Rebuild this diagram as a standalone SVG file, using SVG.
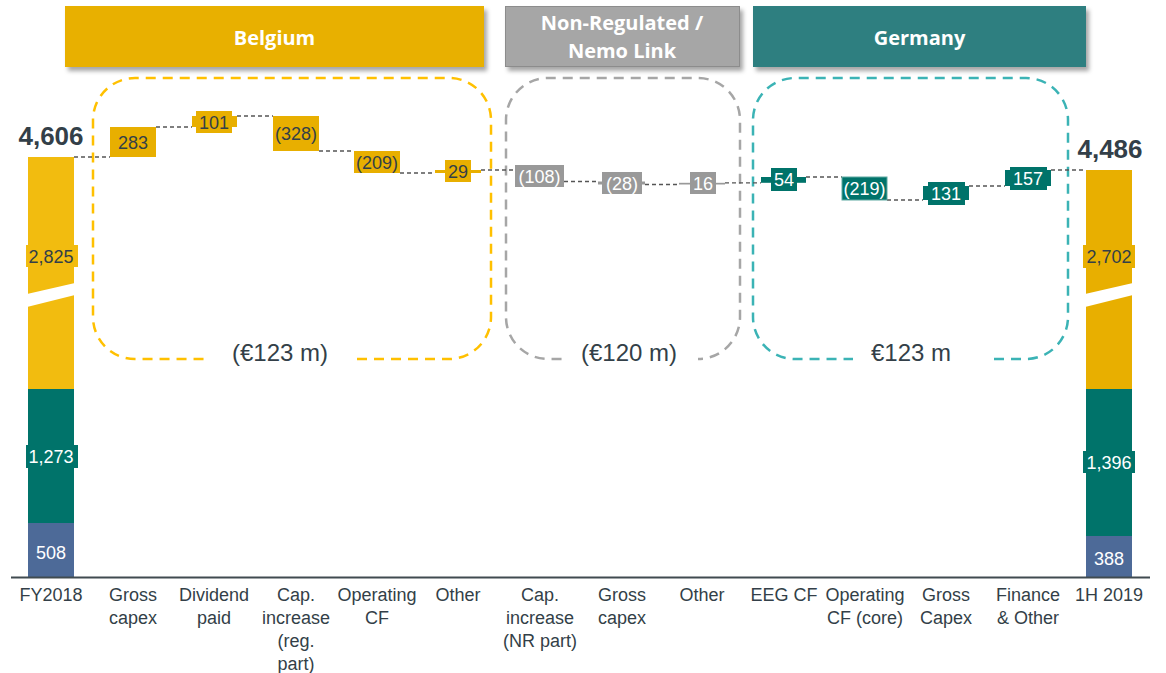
<svg xmlns="http://www.w3.org/2000/svg" width="1166" height="673" viewBox="0 0 1166 673">
<defs>
<filter id="sh" x="-10%" y="-20%" width="130%" height="160%">
<feDropShadow dx="3" dy="4" stdDeviation="2" flood-color="#000" flood-opacity="0.35"/>
</filter>
<style>
.hdr{font-family:"Open Sans","Liberation Sans",sans-serif;font-weight:bold;font-size:20px;fill:#fff;text-anchor:middle}
.cat{font-family:"Liberation Sans",Arial,sans-serif;font-size:18px;fill:#333F48;text-anchor:middle}
.val{font-family:"Liberation Sans",Arial,sans-serif;font-size:18px;text-anchor:middle}
.dk{fill:#333F48}
.wt{fill:#fff}
.tot{font-family:"Liberation Sans",Arial,sans-serif;font-size:26px;font-weight:bold;fill:#333F48;text-anchor:middle}
.sum{font-family:"Liberation Sans",Arial,sans-serif;font-size:24px;fill:#333F48;text-anchor:middle}
.yl{fill:#E8AF00}
.yl2{fill:#F2BC0F}
.gr{fill:#999999}
.tl{fill:#00736A}
.bl{fill:#4D6A98}
.con{stroke:#555;stroke-width:1.3;stroke-dasharray:4 3;fill:none}
.reg{fill:none;stroke-width:2.5;stroke-dasharray:10 7}
</style>
</defs>
<rect width="1166" height="673" fill="#fff"/>

<!-- headers -->
<g id="hdr-belgium">
<rect x="65" y="6" width="419" height="61" fill="#E8B000" filter="url(#sh)"/>
<text class="hdr" x="274.5" y="45">Belgium</text>
</g>
<g id="hdr-nonreg">
<rect x="505.5" y="6.5" width="234" height="60" fill="#A6A6A6" stroke="#8C8C8C" stroke-width="1" filter="url(#sh)"/>
<text class="hdr" x="622" y="30">Non-Regulated /</text>
<text class="hdr" x="622" y="58">Nemo Link</text>
</g>
<g id="hdr-germany">
<rect x="753" y="6" width="333" height="61" fill="#2F7F80" filter="url(#sh)"/>
<text class="hdr" x="919.5" y="45">Germany</text>
</g>

<!-- region boxes -->
<g id="region-belgium">
<path class="reg" stroke="#FFC000" d="M357,359 H449 A42,42 0 0 0 491,317 V120 A42,42 0 0 0 449,78 H135 A42,42 0 0 0 93,120 V317 A42,42 0 0 0 135,359 H207"/>
<text class="sum" x="280" y="361">(€123 m)</text>
</g>
<g id="region-nonreg">
<path class="reg" stroke="#A6A6A6" d="M703,359 H698 A42,42 0 0 0 740,317 V120 A42,42 0 0 0 698,78 H548 A42,42 0 0 0 506,120 V317 A42,42 0 0 0 548,359 H563"/>
<text class="sum" x="629" y="361">(€120 m)</text>
</g>
<g id="region-germany">
<path class="reg" stroke="#3BB3B5" d="M994,359 H1026 A42,42 0 0 0 1068,317 V120 A42,42 0 0 0 1026,78 H795 A42,42 0 0 0 753,120 V317 A42,42 0 0 0 795,359 H853"/>
<text class="sum" x="911" y="361">€123 m</text>
</g>

<!-- connectors -->
<g id="connectors">
<line class="con" x1="74" y1="157" x2="110" y2="157"/>
<line class="con" x1="156" y1="127" x2="192" y2="127"/>
<line class="con" x1="237" y1="116" x2="273" y2="116"/>
<line class="con" x1="319" y1="151" x2="354" y2="151"/>
<line class="con" x1="400" y1="173" x2="435" y2="173"/>
<line class="con" x1="481" y1="170" x2="515" y2="170"/>
<line class="con" x1="564" y1="181.5" x2="598" y2="181.5"/>
<line class="con" x1="645" y1="184.5" x2="679" y2="184.5"/>
<line class="con" x1="725" y1="182.8" x2="761" y2="182.8"/>
<line class="con" x1="806" y1="177" x2="842" y2="177"/>
<line class="con" x1="887" y1="200" x2="923" y2="200"/>
<line class="con" x1="969" y1="186" x2="1005" y2="186"/>
<line class="con" x1="1051" y1="170" x2="1086" y2="170"/>
</g>

<!-- start bar -->
<g id="bar-fy2018">
<rect class="yl2" x="28" y="157" width="46" height="232"/>
<polygon points="27,294 75,283 75,295 27,307" fill="#fff"/>
<rect class="tl" x="28" y="389" width="46" height="134"/>
<rect class="bl" x="28" y="523" width="46" height="54"/>
<rect class="yl2" x="26" y="245" width="52" height="22"/>
<text class="val dk" x="51" y="262.5">2,825</text>
<rect class="tl" x="26" y="445" width="52" height="23"/>
<text class="val wt" x="51" y="463">1,273</text>
<text class="val wt" x="51" y="558.5">508</text>
<text class="tot" x="51" y="145">4,606</text>
</g>

<!-- Belgium steps -->
<g id="step-gross-capex-be">
<rect class="yl" x="110" y="127" width="46" height="30"/>
<text class="val dk" x="133" y="148.5">283</text>
</g>
<g id="step-dividend">
<rect class="yl" x="192" y="116" width="45" height="11"/>
<rect class="yl" x="196" y="111" width="36" height="22"/>
<text class="val dk" x="214" y="128.5">101</text>
</g>
<g id="step-capinc-reg">
<rect class="yl" x="273" y="116" width="46" height="35"/>
<text class="val dk" x="296" y="140">(328)</text>
</g>
<g id="step-opcf-be">
<rect class="yl" x="354" y="151" width="46" height="22"/>
<text class="val dk" x="377" y="169">(209)</text>
</g>
<g id="step-other-be">
<rect class="yl" x="435" y="170" width="46" height="3"/>
<rect class="yl" x="445" y="160" width="26" height="22"/>
<text class="val dk" x="458" y="177.5">29</text>
</g>

<!-- Non-regulated steps -->
<g id="step-capinc-nr">
<rect class="gr" x="515" y="165" width="49" height="22"/>
<text class="val wt" x="539.5" y="182.5">(108)</text>
</g>
<g id="step-gross-capex-nr">
<rect class="gr" x="598" y="181.5" width="47" height="3"/>
<rect class="gr" x="602" y="172" width="40" height="22"/>
<text class="val wt" x="622" y="189.5">(28)</text>
</g>
<g id="step-other-nr">
<rect class="gr" x="679" y="182.8" width="46" height="1.7"/>
<rect class="gr" x="690" y="172" width="26" height="22"/>
<text class="val wt" x="703" y="189.5">16</text>
</g>

<!-- Germany steps -->
<g id="step-eeg">
<rect class="tl" x="761" y="177" width="45" height="5.8"/>
<rect class="tl" x="771" y="168" width="26" height="23"/>
<text class="val wt" x="784" y="186">54</text>
</g>
<g id="step-opcf-de">
<rect class="tl" x="842" y="177" width="45" height="23" stroke="#5FA9A2" stroke-width="1"/>
<text class="val wt" x="864.5" y="195">(219)</text>
</g>
<g id="step-gross-capex-de">
<rect class="tl" x="923" y="186" width="46" height="14"/>
<rect class="tl" x="928" y="182" width="37" height="23"/>
<text class="val wt" x="946" y="200">131</text>
</g>
<g id="step-finance">
<rect class="tl" x="1005" y="170" width="46" height="16"/>
<rect class="tl" x="1010" y="167" width="37" height="23"/>
<text class="val wt" x="1028" y="185">157</text>
</g>

<!-- end bar -->
<g id="bar-1h2019">
<rect class="yl" x="1086" y="170" width="46" height="219"/>
<polygon points="1085,294 1133,283 1133,295 1085,307" fill="#fff"/>
<rect class="tl" x="1086" y="389" width="46" height="147"/>
<rect class="bl" x="1086" y="536" width="46" height="41"/>
<rect class="yl" x="1083" y="245" width="52" height="23"/>
<text class="val dk" x="1109" y="263">2,702</text>
<rect class="tl" x="1083" y="451" width="52" height="22"/>
<text class="val wt" x="1109" y="468.5">1,396</text>
<text class="val wt" x="1109" y="564.5">388</text>
<text class="tot" x="1110" y="158">4,486</text>
</g>

<!-- axis -->
<g id="axis">
<line x1="11" y1="577.5" x2="1150" y2="577.5" stroke="#404B50" stroke-width="2"/>
</g>

<!-- category labels -->
<g id="categories">
<text class="cat" x="51" y="601">FY2018</text>
<text class="cat" x="133" y="601">Gross</text><text class="cat" x="133" y="624">capex</text>
<text class="cat" x="214" y="601">Dividend</text><text class="cat" x="214" y="624">paid</text>
<text class="cat" x="296" y="601">Cap.</text><text class="cat" x="296" y="624">increase</text><text class="cat" x="296" y="647">(reg.</text><text class="cat" x="296" y="670">part)</text>
<text class="cat" x="377" y="601">Operating</text><text class="cat" x="377" y="624">CF</text>
<text class="cat" x="458" y="601">Other</text>
<text class="cat" x="540" y="601">Cap.</text><text class="cat" x="540" y="624">increase</text><text class="cat" x="540" y="647">(NR part)</text>
<text class="cat" x="622" y="601">Gross</text><text class="cat" x="622" y="624">capex</text>
<text class="cat" x="702" y="601">Other</text>
<text class="cat" x="784" y="601">EEG CF</text>
<text class="cat" x="865" y="601">Operating</text><text class="cat" x="865" y="624">CF (core)</text>
<text class="cat" x="946" y="601">Gross</text><text class="cat" x="946" y="624">Capex</text>
<text class="cat" x="1028" y="601">Finance</text><text class="cat" x="1028" y="624">&amp; Other</text>
<text class="cat" x="1109" y="601">1H 2019</text>
</g>
</svg>
